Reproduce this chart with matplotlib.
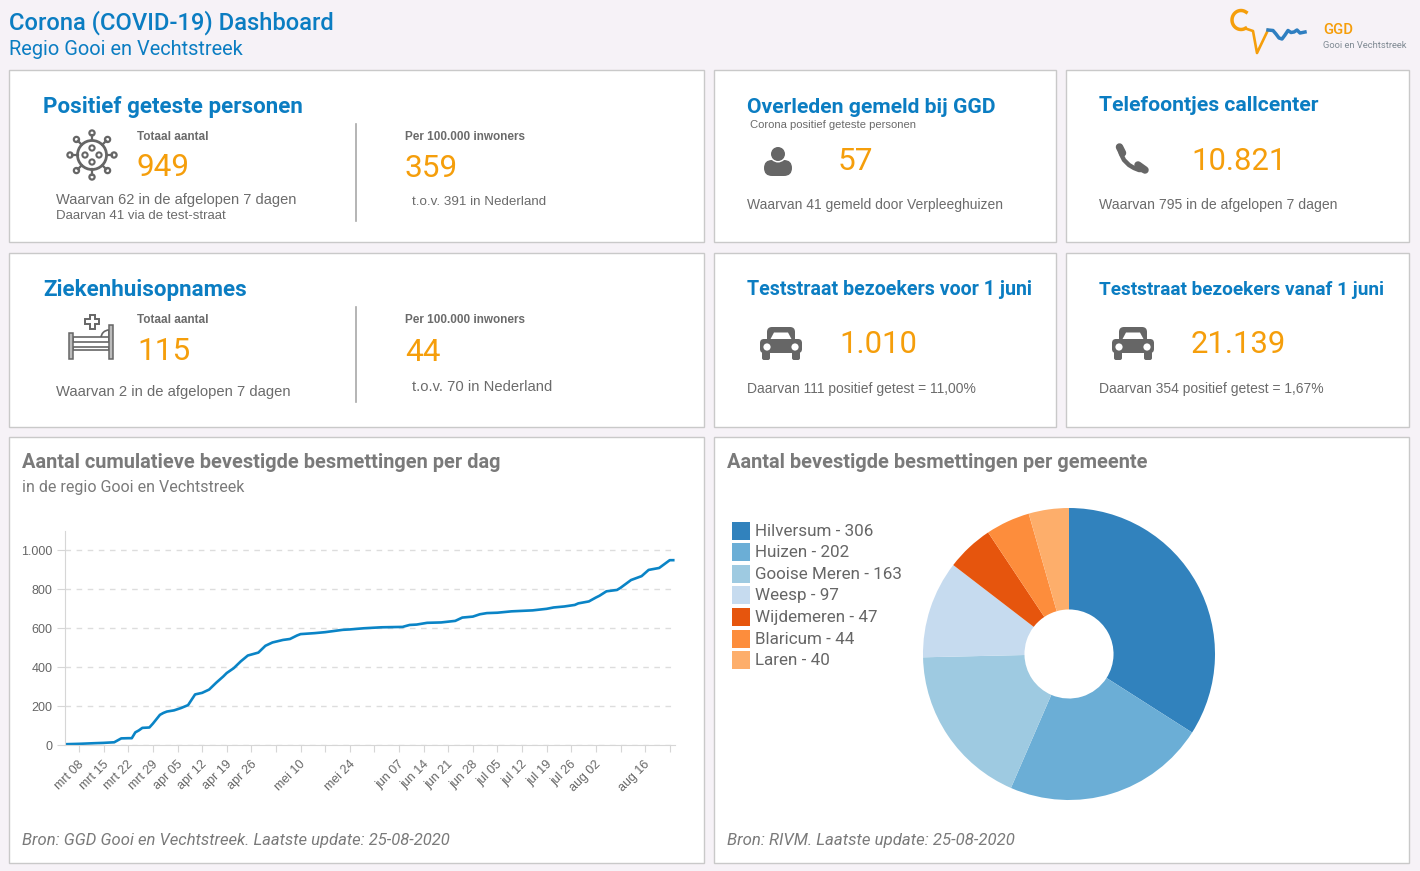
import numpy as np
import pandas as pd
import matplotlib
matplotlib.use('Agg')
import matplotlib.pyplot as plt
from matplotlib.transforms import ScaledTranslation
from matplotlib.patches import Rectangle, Circle, FancyBboxPatch, Polygon, Wedge

# cumulative cases per day
dates = ['2020-03-04', '2020-03-08', '2020-03-12', '2020-03-15', '2020-03-18', '2020-03-20', '2020-03-22',
         '2020-03-23', '2020-03-24', '2020-03-25', '2020-03-26', '2020-03-27', '2020-03-28', '2020-03-29',
         '2020-03-31', '2020-04-01', '2020-04-02', '2020-04-04', '2020-04-06', '2020-04-08', '2020-04-10',
         '2020-04-12', '2020-04-14', '2020-04-16', '2020-04-18', '2020-04-19', '2020-04-21', '2020-04-23',
         '2020-04-25', '2020-04-28', '2020-04-30', '2020-05-02', '2020-05-05', '2020-05-07', '2020-05-09',
         '2020-05-10', '2020-05-14', '2020-05-17', '2020-05-22', '2020-05-24', '2020-05-28', '2020-06-02',
         '2020-06-08', '2020-06-10', '2020-06-12', '2020-06-15', '2020-06-19', '2020-06-23', '2020-06-25',
         '2020-06-28', '2020-06-30', '2020-07-02', '2020-07-05', '2020-07-09', '2020-07-15', '2020-07-19',
         '2020-07-21', '2020-07-24', '2020-07-27', '2020-07-28', '2020-07-31', '2020-08-02', '2020-08-03',
         '2020-08-05', '2020-08-08', '2020-08-09', '2020-08-12', '2020-08-15', '2020-08-17', '2020-08-20',
         '2020-08-23', '2020-08-24']
cases = [4, 6, 9, 11, 14, 34, 35,
         35, 65, 75, 88, 89, 90, 110,
         155, 165, 172, 178, 190, 205, 260,
         268, 285, 320, 352, 370, 395, 430,
         460, 475, 510, 527, 540, 545, 563,
         570, 575, 580, 592, 594, 600, 605,
         607, 617, 619, 628, 630, 638, 655,
         660, 672, 678, 680, 687, 692, 700,
         707, 712, 720, 728, 738, 758, 767,
         790, 797, 808, 848, 868, 900, 910,
         950, 950]

tick_dates = pd.date_range('2020-03-08', '2020-08-23', freq='7D')
tick_labels = ['mrt 08', 'mrt 15', 'mrt 22', 'mrt 29', 'apr 05', 'apr 12', 'apr 19', 'apr 26', '', 'mei 10', '',
               'mei 24', '', 'jun 07', 'jun 14', 'jun 21', 'jun 28', 'jul 05', 'jul 12', 'jul 19', 'jul 26',
               'aug 02', '', 'aug 16', '']
y_ticks = [0, 200, 400, 600, 800, 1000]
y_labels = ['0', '200', '400', '600', '800', '1.000']

municipalities = ['Hilversum', 'Huizen', 'Gooise Meren', 'Weesp', 'Wijdemeren', 'Blaricum', 'Laren']
municipality_cases = [306, 202, 163, 97, 47, 44, 40]
pie_colors = ['#3182bd', '#6baed6', '#9ecae1', '#c6dbef', '#e6550d', '#fd8d3c', '#fdae6b']

BG = '#f6f2f7'
BORDER = '#c9c9c9'
BLUE = '#0b7dc2'
ORANGE = '#f59e0b'
GREY = '#6b6b6b'
ICON = '#666666'
ARIAL = 'Liberation Sans'
W, H = 1420, 871


def px_axes(fig, left, top, right, bottom):
    return fig.add_axes([left / W, 1 - bottom / H, (right - left) / W, (bottom - top) / H])


def txt(ax, x, y, s, size, color=GREY, weight='normal', family='Roboto', style='normal', ha='left'):
    # size is in pixels, y is the vertical centre of the line
    ax.text(x, y + 1.5, s, fontsize=size * 0.72, color=color, fontweight=weight, family=family,
            fontstyle=style, ha=ha, va='center')


def virus(ax, cx, cy):
    ax.add_patch(Circle((cx, cy), 14.5, fill=False, ec=ICON, lw=2))
    for a in np.arange(0, 360, 45):
        dx, dy = np.cos(np.radians(a)), np.sin(np.radians(a))
        ax.plot([cx + 14.5 * dx, cx + 20 * dx], [cy + 14.5 * dy, cy + 20 * dy], color=ICON, lw=1.6)
        ax.add_patch(Circle((cx + 22 * dx, cy + 22 * dy), 2.6, fc='white', ec=ICON, lw=1.6))
    for dx, dy in [(-7, 0), (7, 0), (0, -7), (0, 7)]:
        ax.add_patch(Circle((cx + dx, cy + dy), 2.6, fc='white', ec=ICON, lw=1.5))


def bed(ax, cx, cy):
    ax.add_patch(Wedge((cx + 18, cy + 1), 8, 180, 270, fc='white', ec=ICON, lw=1.2))
    ax.add_patch(Rectangle((cx - 18, cy + 0), 36, 5, fc='white', ec=ICON, lw=1.2))
    ax.add_patch(Rectangle((cx - 18, cy + 10), 36, 3, fc='white', ec=ICON, lw=1.2))
    ax.add_patch(Rectangle((cx - 22, cy - 4), 4, 26, fc='#bbbbbb', ec=ICON, lw=1.1))
    ax.add_patch(Rectangle((cx + 18, cy - 12), 4, 34, fc='#bbbbbb', ec=ICON, lw=1.1))
    px, py = cx + 1, cy - 15
    ax.add_patch(Polygon([(px - 2.5, py - 7), (px + 2.5, py - 7), (px + 2.5, py - 2.5), (px + 7, py - 2.5),
                          (px + 7, py + 2.5), (px + 2.5, py + 2.5), (px + 2.5, py + 7), (px - 2.5, py + 7),
                          (px - 2.5, py + 2.5), (px - 7, py + 2.5), (px - 7, py - 2.5), (px - 2.5, py - 2.5)],
                         fc='white', ec=ICON, lw=1.4))


def person(ax, cx, cy):
    ax.add_patch(FancyBboxPatch((cx - 9.5, cy + 3.5), 19, 7, boxstyle='round,pad=4.5,rounding_size=8', fc=ICON, ec='none'))
    ax.add_patch(Circle((cx, cy - 7), 8.5, fc='white', ec='none'))
    ax.add_patch(Circle((cx, cy - 7), 7, fc=ICON, ec='none'))


def phone(ax, cx, cy):
    xs = [cx - 12, cx - 11, cx - 8, cx - 3, cx + 2, cx + 7, cx + 12]
    ys = [cy - 11, cy - 5, cy + 1, cy + 6, cy + 9, cy + 11, cy + 11]
    ax.plot(xs, ys, color=ICON, lw=3.2, solid_capstyle='round')
    ax.plot([cx - 12.5, cx - 9.5], [cy - 12, cy - 6], color=ICON, lw=5.4, solid_capstyle='round')
    ax.plot([cx + 6, cx + 13], [cy + 6, cy + 11], color=ICON, lw=5.4, solid_capstyle='round')


def car(ax, cx, cy):
    ax.add_patch(FancyBboxPatch((cx - 14, cy - 15), 28, 18, boxstyle='round,pad=0,rounding_size=5', fc=ICON, ec='none'))
    ax.add_patch(Polygon([(cx - 11, cy - 2), (cx - 7, cy - 9.5), (cx + 7, cy - 9.5), (cx + 11, cy - 2)], fc='white', ec='none'))
    ax.add_patch(FancyBboxPatch((cx - 21, cy - 3), 42, 14, boxstyle='round,pad=0,rounding_size=4', fc=ICON, ec='none'))
    ax.add_patch(Circle((cx - 14, cy + 5), 3.6, fc='white', ec='none'))
    ax.add_patch(Circle((cx + 14, cy + 5), 3.6, fc='white', ec='none'))
    ax.add_patch(FancyBboxPatch((cx - 19, cy + 9), 8, 9, boxstyle='round,pad=0,rounding_size=2', fc=ICON, ec='none'))
    ax.add_patch(FancyBboxPatch((cx + 11, cy + 9), 8, 9, boxstyle='round,pad=0,rounding_size=2', fc=ICON, ec='none'))


def logo(ax):
    t = np.radians(np.linspace(55, 300, 30))
    ax.plot(1241 + 9 * np.cos(t), 20 - 9.5 * np.sin(t), color=ORANGE, lw=2.5)
    ax.plot([1245.5, 1250, 1253, 1257, 1268], [28.5, 30, 31, 53, 30], color=ORANGE, lw=1.9)
    ax.plot([1268, 1273, 1276, 1279, 1282, 1285, 1288, 1291, 1294, 1297, 1300, 1305],
            [30, 30.5, 34, 38, 39, 35, 30.5, 32.5, 32, 30, 33, 32], color='#2f7fc1', lw=2.5)


fig = plt.figure(figsize=(W / 100, H / 100), dpi=100, facecolor=BG)

# page layer in pixel coordinates
bg = fig.add_axes([0, 0, 1, 1])
bg.set_xlim(0, W)
bg.set_ylim(H, 0)
bg.axis('off')

panels = [(9, 70, 704, 243), (714, 70, 1056, 243), (1066, 70, 1409, 243),
          (9, 253, 704, 427), (714, 253, 1056, 427), (1066, 253, 1409, 427),
          (9, 437, 704, 863), (714, 437, 1409, 863)]
for x0, y0, x1, y1 in panels:
    bg.add_patch(Rectangle((x0, y0), x1 - x0 - 0.5, y1 - y0 - 0.5, fc='white', ec=BORDER, lw=1))

txt(bg, 9, 21, 'Corona (COVID-19) Dashboard', 23.7, BLUE, 'medium')
txt(bg, 9, 48, 'Regio Gooi en Vechtstreek', 20, BLUE)
logo(bg)
txt(bg, 1323, 29, 'GGD', 14.8, ORANGE, 'medium')
txt(bg, 1323, 44, 'Gooi en Vechtstreek', 9.4, '#7f8a93')

# row 1
txt(bg, 43, 105, 'Positief geteste personen', 22.4, BLUE, 'bold')
virus(bg, 92, 155)
txt(bg, 137, 135, 'Totaal aantal', 11.8, GREY, 'bold', ARIAL)
txt(bg, 137, 166, '949', 31.5, ORANGE)
txt(bg, 56, 198, 'Waarvan 62 in de afgelopen 7 dagen', 14.65, GREY, family=ARIAL)
txt(bg, 56, 214, 'Daarvan 41 via de test-straat', 13.2, GREY, family=ARIAL)
bg.plot([355.5, 355.5], [124, 221], color='#a8a8a8', lw=1.2)
txt(bg, 405, 135, 'Per 100.000 inwoners', 11.8, GREY, 'bold', ARIAL)
txt(bg, 405, 167, '359', 31.5, ORANGE)
txt(bg, 412, 200, 't.o.v. 391 in Nederland', 13.4, GREY, family=ARIAL)

txt(bg, 747, 106, 'Overleden gemeld bij GGD', 21.1, BLUE, 'bold')
txt(bg, 750, 124, 'Corona positief geteste personen', 11.3, GREY, family=ARIAL)
person(bg, 778, 161)
txt(bg, 838, 160, '57', 31.5, ORANGE)
txt(bg, 747, 203, 'Waarvan 41 gemeld door Verpleeghuizen', 13.95, GREY, family=ARIAL)

txt(bg, 1099, 104, 'Telefoontjes callcenter', 21.1, BLUE, 'bold')
phone(bg, 1132, 159)
txt(bg, 1191, 160, '10.821', 31, ORANGE)
txt(bg, 1099, 203, 'Waarvan 795 in de afgelopen 7 dagen', 14, GREY, family=ARIAL)

# row 2
txt(bg, 43, 288, 'Ziekenhuisopnames', 22.4, BLUE, 'bold')
bed(bg, 91, 337)
txt(bg, 137, 318, 'Totaal aantal', 11.8, GREY, 'bold', ARIAL)
txt(bg, 137, 350, '115', 31.5, ORANGE)
txt(bg, 56, 390, 'Waarvan 2 in de afgelopen 7 dagen', 14.7, GREY, family=ARIAL)
bg.plot([355.5, 355.5], [307, 402], color='#a8a8a8', lw=1.2)
txt(bg, 405, 318, 'Per 100.000 inwoners', 11.8, GREY, 'bold', ARIAL)
txt(bg, 405, 351, '44', 31.5, ORANGE)
txt(bg, 412, 385, 't.o.v. 70 in Nederland', 14.8, GREY, family=ARIAL)

txt(bg, 747, 288, 'Teststraat bezoekers voor 1 juni', 19.6, BLUE, 'bold')
car(bg, 781, 342)
txt(bg, 839, 343, '1.010', 31, ORANGE)
txt(bg, 747, 387, 'Daarvan 111 positief getest = 11,00%', 13.85, GREY, family=ARIAL)

txt(bg, 1099, 288, 'Teststraat bezoekers vanaf 1 juni', 19, BLUE, 'bold')
car(bg, 1133, 342)
txt(bg, 1191, 343, '21.139', 31, ORANGE)
txt(bg, 1099, 387, 'Daarvan 354 positief getest = 1,67%', 13.9, GREY, family=ARIAL)

# line chart panel
txt(bg, 22, 461, 'Aantal cumulatieve bevestigde besmettingen per dag', 20, '#7a7a7a', 'bold')
txt(bg, 22, 486, 'in de regio Gooi en Vechtstreek', 16, '#7a7a7a')
txt(bg, 22, 839, 'Bron: GGD Gooi en Vechtstreek. Laatste update: 25-08-2020', 16.6, '#7a7a7a', style='italic')

ax = px_axes(fig, 65, 531, 675, 745)
ax.patch.set_visible(False)
ax.plot(pd.to_datetime(dates), cases, color='#0a84c6', lw=1.9)
ax.set_xlim(pd.Timestamp('2020-03-04'), pd.Timestamp('2020-08-24 12:00'))
ax.set_ylim(0, 1100)
ax.set_yticks(y_ticks)
ax.set_yticklabels(y_labels)
ax.set_xticks(tick_dates)
ax.set_xticklabels(tick_labels, rotation=45, ha='right', rotation_mode='anchor')
ax.grid(axis='y', color='#dddddd', lw=1, ls=(0, (4, 4)))
ax.set_axisbelow(True)
for s in ['top', 'right']:
    ax.spines[s].set_visible(False)
for s in ['left', 'bottom']:
    ax.spines[s].set_color('#d6d6d6')
ax.tick_params(axis='y', length=6, color='#d6d6d6', labelcolor='#666666', pad=3)
ax.tick_params(axis='x', length=5, color='#d6d6d6', labelcolor='#666666', pad=3)
shift = ScaledTranslation(-1 / 100, -2 / 100, fig.dpi_scale_trans)
for lab in ax.get_xticklabels():
    lab.set_transform(lab.get_transform() + shift)
for lab in ax.get_xticklabels() + ax.get_yticklabels():
    lab.set_family(ARIAL)
    lab.set_fontsize(9)

# pie panel
txt(bg, 727, 461, 'Aantal bevestigde besmettingen per gemeente', 20, '#7a7a7a', 'bold')
txt(bg, 727, 839, 'Bron: RIVM. Laatste update: 25-08-2020', 16.8, '#7a7a7a', style='italic')
for i, (name, n) in enumerate(zip(municipalities, municipality_cases)):
    y = 530.5 + i * 21.6
    bg.add_patch(Rectangle((732, y - 9), 18, 18, fc=pie_colors[i], ec='none'))
    txt(bg, 755, y - 1, '%s - %d' % (name, n), 17, '#666666')

pie_ax = px_axes(fig, 923, 508, 1215, 800)
pie_ax.pie(municipality_cases, colors=pie_colors, startangle=90, counterclock=False, radius=1,
           wedgeprops={'width': 0.695, 'linewidth': 0})
pie_ax.set_xlim(-1, 1)
pie_ax.set_ylim(-1, 1)

fig.savefig('out.png', dpi=100, facecolor=BG)
